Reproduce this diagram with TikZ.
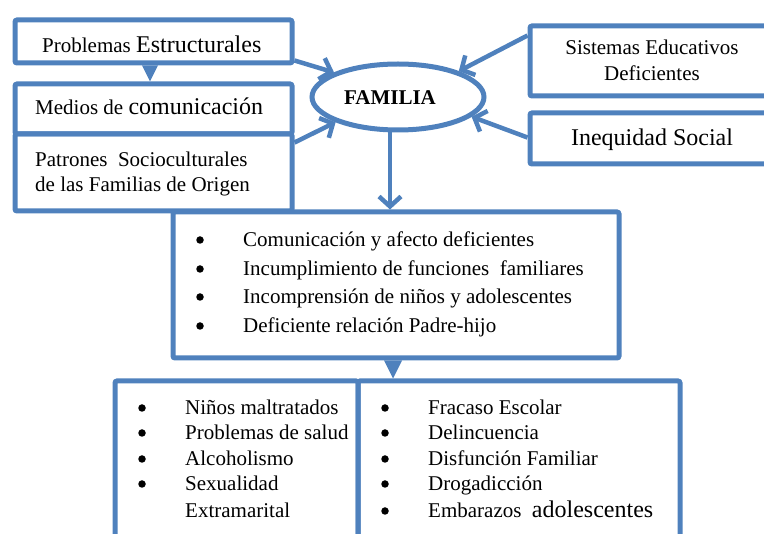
\documentclass[tikz,border=0pt]{standalone}
\usepackage{fontspec}
\setmainfont{Liberation Serif}
\usetikzlibrary{arrows.meta,calc,shapes.geometric}
\definecolor{obl}{RGB}{79,129,189}
\newcommand{\fa}{\fontsize{21}{25}\selectfont}
\newcommand{\fb}{\fontsize{24}{28}\selectfont}
\begin{document}
\begin{tikzpicture}[x=1pt,y=-1pt,
  box/.style={draw=obl,line width=5pt,rounded corners=2pt,inner sep=0pt,rectangle},
  famshape/.style={draw=obl,line width=5pt,ellipse,inner sep=0pt,minimum width=172pt,minimum height=66pt},
  arr/.style={draw=obl,line width=4.5pt,-{Straight Barb[length=10pt,width=22pt]}},
  tri/.style={fill=obl,draw=none},
  txt/.style={inner sep=0pt,anchor=base west,font=\fa},
  ctxt/.style={inner sep=0pt,anchor=base,font=\fa},
  bul/.style={circle,fill=black,inner sep=0pt,minimum size=7.5pt}]
\useasboundingbox (0,0) rectangle (764,534);
\clip (0,0) rectangle (764,534);
% boxes
\node[box,minimum width=277pt,minimum height=43pt] (prob) at (153.5,41.5) {};
\node[box,minimum width=277pt,minimum height=50pt] (medios) at (153.5,109) {};
\node[box,minimum width=277pt,minimum height=77pt] (pat) at (153.5,172.5) {};
\node[box,minimum width=270pt,minimum height=70pt] (sist) at (665,61) {};
\node[box,minimum width=270pt,minimum height=51pt] (ineq) at (665,138.5) {};
\node[famshape] (fam) at (398,97) {};
\node[box,minimum width=446pt,minimum height=146pt] (mid) at (396,285) {};
\node[box,minimum width=243pt,minimum height=199pt] (bl) at (236.5,480.5) {};
\node[box,minimum width=322pt,minimum height=199pt] (br) at (519,480.5) {};
% helper points
\coordinate (fs) at ($(fam.south)+(-8,0)$);
\coordinate (ps) at ($(prob.south)+(-3.5,0)$);
\coordinate (ms) at ($(mid.south)+(-3,0)$);
% connectors
\draw[arr] ($(prob.south east)+(0,-5)$) -- (fam.159);
\draw[arr] ($(pat.north east)+(0,11)$) -- (fam.202);
\draw[arr] ($(sist.north west)+(0,12)$) -- (fam.23);
\draw[arr] ($(ineq.west)+(0,-1)$) -- (fam.-15);
\draw[arr] (fs) -- (fs |- mid.north);
\fill[tri] ($(ps)+(-8,0)$) -- ($(ps)+(8,0)$) -- (ps |- medios.north) -- cycle;
\fill[tri] ($(ms)+(-9,0)$) -- ($(ms)+(9,0)$) -- (ms |- bl.north) -- cycle;
% texts
\node[txt] (tprob) at (42,53) {Problemas {\fb Estructurales}};
\node[txt] (tmed) at (35,115) {Medios de {\fb comunicación}};
\node[txt] (tpat1) at (35,167) {Patrones~ Socioculturales};
\node[txt] (tpat2) at (35,192) {de las Familias de Origen};
\node[ctxt,font=\fa\bfseries] (tfam) at (390,105) {FAMILIA};
\node[ctxt] (tsis1) at (652,55) {Sistemas Educativos};
\node[ctxt] (tsis2) at (652,81) {Deficientes};
\node[ctxt,font=\fb] (tineq) at (652,146) {Inequidad Social};
% middle list
\foreach \y/\t [count=\i] in {247/{Comunicación y afecto deficientes},
  276/{Incumplimiento de funciones~ familiares},
  304/{Incomprensión de niños y adolescentes},
  333/{Deficiente relación Padre-hijo}}{
  \node[bul] (mb\i) at (200,\y-7) {};
  \node[txt] (mt\i) at (243,\y) {\t};
}
% bottom left list
\foreach \y/\t [count=\i] in {415/{Niños maltratados},440/{Problemas de salud},466/{Alcoholismo},491/{Sexualidad}}{
  \node[bul] (lb\i) at (142,\y-7) {};
  \node[txt] (lt\i) at (185,\y) {\t};
}
\node[txt] (lt5) at (185,518) {Extramarital};
% bottom right list
\foreach \y/\t [count=\i] in {415/{Fracaso Escolar},440/{Delincuencia},466/{Disfunción Familiar},491/{Drogadicción},518/{Embarazos~ {\fb adolescentes}}}{
  \node[bul] (rb\i) at (385,\y-7) {};
  \node[txt] (rt\i) at (428,\y) {\t};
}
\end{tikzpicture}
\end{document}
